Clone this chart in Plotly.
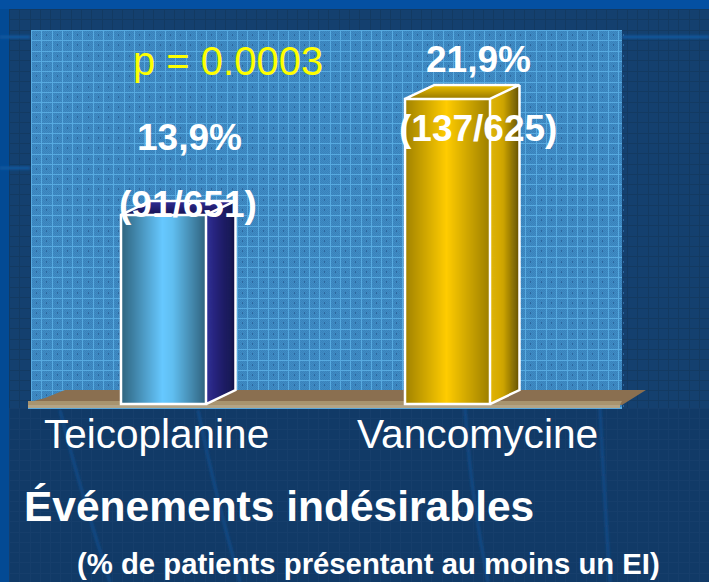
import base64
import plotly.graph_objects as go

categories = ["Teicoplanine", "Vancomycine"]
percent = [13.9, 21.9]
counts = ["(91/651)", "(137/625)"]
percent_labels = ["13,9%", "21,9%"]
p_label = "p = 0.0003"
title_text = "Événements indésirables"
subtitle_text = "(% de patients présentant au moins un EI)"

W, H = 709, 582
FONT = "Liberation Sans"
# axes are fitted so that the library's scales reproduce the picture
X0, XS = 163.5, 284.0
Y0, YS = 416.5, 14.5
BASE = 0.86
BW = 85 / XS
DX, DY = 29.5 / XS, 14 / YS


def lerp(a, b, t):
    return tuple(a[i] + (b[i] - a[i]) * t for i in range(3))


def rgb(c):
    return "rgb(%d,%d,%d)" % tuple(round(v) for v in c)


def grad(stops, t):
    for (t0, c0), (t1, c1) in zip(stops, stops[1:]):
        if t <= t1:
            return rgb(lerp(c0, c1, (t - t0) / (t1 - t0)))
    return rgb(stops[-1][1])


front = [
    [(0, (44, 96, 122)), (0.5, (102, 200, 255)), (0.62, (96, 190, 240)), (1, (48, 100, 128))],
    [(0, (158, 128, 0)), (0.5, (255, 204, 0)), (1, (158, 128, 0))],
]
side = [
    [(0, (48, 44, 150)), (1, (18, 18, 70))],
    [(0, (232, 184, 0)), (0.45, (205, 164, 0)), (1, (100, 80, 0))],
]
top = [
    [(0, (20, 18, 80)), (1, (48, 44, 150))],
    [(0, (150, 120, 0)), (1, (238, 192, 0))],
]


def lines(x0, x1, y0, y1, cell=10.3, ox=None, oy=None):
    """crisp 1px grid lines snapped to whole pixels"""
    ox = x0 if ox is None else ox
    oy = y0 if oy is None else oy
    d = []
    k = 0
    while ox + k * cell < x1:
        d.append(f"M{round(ox + k * cell) + .5} {y0}V{y1}")
        k += 1
    k = 0
    while oy + k * cell < y1:
        d.append(f"M{x0} {round(oy + k * cell) + .5}H{x1}")
        k += 1
    return "".join(d)


def dots(x0, x1, y0, y1, cell=10.3):
    d = []
    i = 0
    while x0 + i * cell < x1:
        j = 0
        while y0 + j * cell < y1:
            x = round(x0 + i * cell + 5)
            y = round(y0 + j * cell + 4)
            d.append(f'<rect x="{x}" y="{y}" width="1" height="2"/>')
            j += 1
        i += 1
    return "".join(d)


def background():
    s = [f'<svg xmlns="http://www.w3.org/2000/svg" width="{W}" height="{H}" viewBox="0 0 {W} {H}" shape-rendering="crispEdges">']
    s.append('''<defs>
<pattern id="dith" width="2" height="2" patternUnits="userSpaceOnUse">
<rect width="2" height="2" fill="#3f8cc5"/><rect width="1" height="1" fill="#3a82bb"/>
<rect x="1" y="1" width="1" height="1" fill="#3a82bb"/></pattern>
<filter id="soft"><feGaussianBlur stdDeviation="1.2"/></filter>
</defs>''')
    s.append(f'<rect width="{W}" height="{H}" fill="#034a94"/>')
    s.append(f'<rect x="0" y="0" width="{W}" height="9" fill="#0450a2"/>')
    s.append(f'<rect x="9" y="9" width="{W-9}" height="399" fill="#14406f"/>')
    s.append(f'<path d="{lines(9, W, 9, 408)}" stroke="#133a62" fill="none"/>')
    s.append(f'<rect x="9" y="408" width="{W-9}" height="{H-408}" fill="#113a67"/>')
    s.append(f'<path d="{lines(9, W, 408, H)}" stroke="#163e6b" fill="none"/>')
    s.append('<g shape-rendering="auto" filter="url(#soft)">'
             '<path d="M0 37H30M622 37H709M0 168H30" stroke="#17599f" stroke-width="3" fill="none"/>'
             '<path d="M60 410Q80 490 110 582M198 410Q214 490 240 582M465 408Q470 490 488 582M600 408Q604 490 610 582" '
             'stroke="#134a85" stroke-width="3" fill="none"/></g>')
    s.append('<rect x="31" y="30" width="591" height="378" fill="url(#dith)"/>')
    s.append(f'<g fill="#2d679e">{dots(31, 622, 30, 408)}</g>')
    s.append(f'<path d="{lines(31, 622, 30, 408)}" stroke="#57aae0" fill="none"/>')
    s.append('<rect x="28" y="407" width="594" height="2" fill="#5aa8dc"/>')
    s.append('</svg>')
    return "data:image/svg+xml;base64," + base64.b64encode("".join(s).encode()).decode()


def px(x):
    return x / W


def py(y):
    return 1 - y / H


def conv(points):
    return "M" + "L".join(f"{px(a):.5f},{py(b):.5f}" for a, b in points) + "Z"


def note(text, x, y, size, color="white", bold=False, anchor="center"):
    return dict(text=f"<b>{text}</b>" if bold else text, x=px(x), y=py(y), xref="paper", yref="paper",
                showarrow=False, xanchor=anchor, yanchor="middle", align="left",
                font=dict(family=FONT, size=size, color=color))


fig = go.Figure()
shapes = [
    dict(type="path", xref="paper", yref="paper", layer="below", line_width=0, fillcolor="#8a6f50",
         path=conv([(65, 390), (646, 390), (622, 405), (30, 405), (30, 402), (45, 398)])),
    dict(type="path", xref="paper", yref="paper", layer="below", line_width=0, fillcolor="#a8946f",
         path=conv([(28, 401), (622, 401), (620, 405), (28, 405)])),
    dict(type="path", xref="paper", yref="paper", layer="below", line_width=0, fillcolor="#b3a486",
         path=conv([(28, 405), (620, 405), (620, 408), (28, 408)])),
]

N_FRONT = 85
N_SIDE = 28
for i, (cat, v) in enumerate(zip(categories, percent)):
    w = BW / N_FRONT
    xs = [i - BW / 2 + w * (k + 0.5) for k in range(N_FRONT)]
    cols = [grad(front[i], (k + 0.5) / N_FRONT) for k in range(N_FRONT)]
    fig.add_trace(go.Bar(x=xs, y=[v - BASE] * N_FRONT, base=BASE, width=w * 1.6, name=cat,
                         marker=dict(color=cols, line_width=0), showlegend=False, hoverinfo="skip"))
    xr = i + BW / 2
    xl = i - BW / 2
    # side face
    for k in range(N_SIDE):
        a, b = k / N_SIDE, min((k + 1.6) / N_SIDE, 1)
        path = (f"M{xr + DX * a},{BASE + DY * a}L{xr + DX * b},{BASE + DY * b}"
                f"L{xr + DX * b},{v + DY * b}L{xr + DX * a},{v + DY * a}Z")
        shapes.append(dict(type="path", path=path, xref="x", yref="y", layer="above", line_width=0,
                           fillcolor=grad(side[i], (k + 0.5) / N_SIDE)))
    # top face
    for k in range(14):
        a, b = k / 14, min((k + 1.6) / 14, 1)
        path = (f"M{xl + DX * a},{v + DY * a}L{xr + DX * a},{v + DY * a}"
                f"L{xr + DX * b},{v + DY * b}L{xl + DX * b},{v + DY * b}Z")
        shapes.append(dict(type="path", path=path, xref="x", yref="y", layer="above", line_width=0,
                           fillcolor=grad(top[i], (k + 0.5) / 14)))
    # white outlines
    outline = (f"M{xl},{BASE}L{xr},{BASE}L{xr},{v}L{xl},{v}Z"
               f"M{xl},{v}L{xl + DX},{v + DY}L{xr + DX},{v + DY}L{xr},{v}"
               f"M{xr + DX},{v + DY}L{xr + DX},{BASE + DY}L{xr},{BASE}")
    shapes.append(dict(type="path", path=outline, xref="x", yref="y", layer="above",
                       line=dict(color="white", width=2.5), fillcolor="rgba(0,0,0,0)"))

annotations = [
    note(p_label, 131, 61, 40, "#ffff00", anchor="left"),
    note(percent_labels[0], 189.5, 137, 37, bold=True),
    note(counts[0], 188.5, 204, 37, bold=True),
    note(percent_labels[1], 478.5, 60, 37, bold=True),
    note(counts[1], 478, 128, 37, bold=True),
    note(categories[0], 156, 434, 40.5),
    note(categories[1], 478, 434, 40.7),
    note(title_text, 22, 506, 42.5, bold=True, anchor="left"),
    note(subtitle_text, 74.5, 563, 29.3, bold=True, anchor="left"),
]

fig.update_layout(
    width=W, height=H, autosize=False, margin=dict(l=0, r=0, t=0, b=0),
    paper_bgcolor="#133a66", plot_bgcolor="rgba(0,0,0,0)", showlegend=False, barmode="overlay",
    xaxis=dict(visible=False, range=[(0 - X0) / XS, (W - X0) / XS], fixedrange=True),
    yaxis=dict(visible=False, range=[(Y0 - H) / YS, Y0 / YS], fixedrange=True),
    shapes=shapes, annotations=annotations,
    images=[dict(source=background(), xref="paper", yref="paper", x=0, y=1, sizex=1, sizey=1,
                 xanchor="left", yanchor="top", sizing="stretch", layer="below")],
)
fig.write_html("out.html", config=dict(displayModeBar=False),
               post_script="document.body.style.margin='0';document.body.style.overflow='hidden';"
                           "document.documentElement.style.overflow='hidden';")
